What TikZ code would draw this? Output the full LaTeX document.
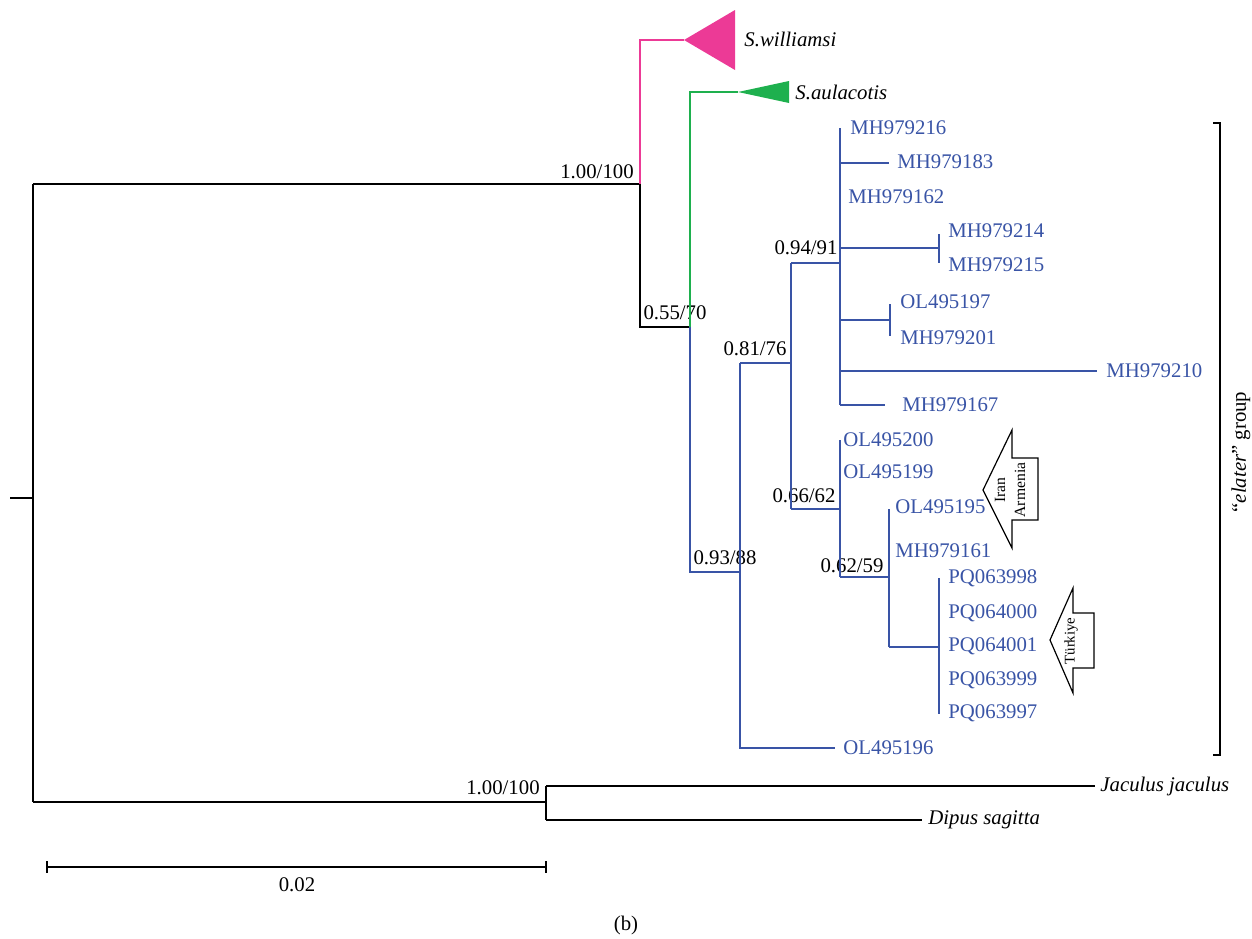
\documentclass[tikz,border=0pt]{standalone}
\usepackage{fontspec}
\setmainfont{Liberation Serif}
\definecolor{tblue}{RGB}{57,84,166}
\definecolor{tpink}{RGB}{236,58,150}
\definecolor{tgreen}{RGB}{30,176,78}
\begin{document}
\begin{tikzpicture}[x=0.5pt,y=-0.5pt,
  edge/.style={line width=1.3pt, line join=miter},
  bedge/.style={edge, draw=tblue},
  pedge/.style={edge, draw=tpink},
  gedge/.style={edge, draw=tgreen},
  txt/.style={font=\fontsize{10.4}{12}\selectfont, inner sep=0pt},
  leaf/.style={txt, anchor=west, text=tblue},
  ileaf/.style={txt, anchor=west, font=\fontsize{10.4}{12}\selectfont\itshape},
  sup/.style={txt},
  region/.style={draw, line width=0.6pt, fill=white, line join=miter}]
\useasboundingbox (0,0) rectangle (1252,938);

% ---- coordinates of tree nodes
\coordinate (rstub) at (10,498);
\coordinate (rmid) at (33,498);
\coordinate (rtop) at (33,184);
\coordinate (rbot) at (33,802);
\coordinate (amid) at (640,184);
\coordinate (atop) at (640,40);
\coordinate (abot) at (640,327);
\coordinate (wtip) at (684,40);
\coordinate (bmid) at (690,327);
\coordinate (btop) at (690,92);
\coordinate (bbot) at (690,572);
\coordinate (atip) at (738,92);
\coordinate (cmid) at (740,572);
\coordinate (ctop) at (740,363);
\coordinate (cbot) at (740,748);
\coordinate (dmid) at (791,363);
\coordinate (dtop) at (791,263);
\coordinate (dbot) at (791,509);
\coordinate (emid) at (840,263);
\coordinate (etop) at (840,128);
\coordinate (ebot) at (840,405);
\coordinate (fmid) at (840,509);
\coordinate (ftop) at (840,440);
\coordinate (fbot) at (840,577);
\coordinate (gmid) at (889,577);
\coordinate (gtop) at (889,509);
\coordinate (gbot) at (889,647);
\coordinate (hmid) at (939,647);
\coordinate (htop) at (939,578);
\coordinate (hbot) at (939,714);
\coordinate (omid) at (546,802);
\coordinate (otop) at (546,786);
\coordinate (obot) at (546,820);

% ---- leaf labels
\node[ileaf] (swil) at (744,39) {S.williamsi};
\node[ileaf] (saul) at (795,92) {S.aulacotis};
\node[leaf] (l216) at (850,128) {MH979216};
\node[leaf] (l183) at (897,162) {MH979183};
\node[leaf] (l162) at (848,197) {MH979162};
\node[leaf] (l214) at (948,231) {MH979214};
\node[leaf] (l215) at (948,265) {MH979215};
\node[leaf] (l197) at (900,302) {OL495197};
\node[leaf] (l201) at (900,338) {MH979201};
\node[leaf] (l210) at (1106,371) {MH979210};
\node[leaf] (l167) at (902,405) {MH979167};
\node[leaf] (l200) at (843,440) {OL495200};
\node[leaf] (l199) at (843,472) {OL495199};
\node[leaf] (l195) at (895,507) {OL495195};
\node[leaf] (l161) at (895,551) {MH979161};
\node[leaf] (p998) at (948,578) {PQ063998};
\node[leaf] (p000) at (948,613) {PQ064000};
\node[leaf] (p001) at (948,646) {PQ064001};
\node[leaf] (p999) at (948,680) {PQ063999};
\node[leaf] (p997) at (948,713) {PQ063997};
\node[leaf] (l196) at (843,748) {OL495196};
\node[ileaf] (jac) at (1100,786) {Jaculus jaculus};
\node[ileaf] (dip) at (928,820) {Dipus sagitta};

% ---- support values
\node[sup] (s1) at (597,172) {1.00/100};
\node[sup] (s2) at (675,313) {0.55/70};
\node[sup] (s3) at (725,558) {0.93/88};
\node[sup] (s4) at (755,349) {0.81/76};
\node[sup] (s5) at (806,248) {0.94/91};
\node[sup] (s6) at (804,496) {0.66/62};
\node[sup] (s7) at (852,566) {0.62/59};
\node[sup] (s8) at (503,788) {1.00/100};

% ---- black backbone
\draw[edge] (rstub) -- (rmid);
\draw[edge] (rtop) -- (rbot);
\draw[edge] (rtop) -- (amid);
\draw[edge] (amid) -- (abot) -- (bmid);
\draw[edge] (rbot) -- (omid);
\draw[edge] (otop) -- (obot);
\draw[edge] (otop) -- (1095,786) coordinate (jend);
\draw[edge] (obot) -- (922,820) coordinate (dend);

% ---- collapsed clades
\draw[pedge] (amid) -- (atop) -- (wtip);
\fill[tpink] (wtip) -- (735,10) -- (735,70) -- cycle;
\draw[gedge] (bmid) -- (btop) -- (atip);
\fill[tgreen] (atip) -- (789,81) -- (789,103) -- cycle;

% ---- blue clade
\draw[bedge] (bmid) -- (bbot) -- (cmid);
\draw[bedge] (ctop) -- (cbot) -- (835,748) coordinate (e196);
\draw[bedge] (ctop) -- (dmid);
\draw[bedge] (dtop) -- (dbot);
\draw[bedge] (dtop) -- (emid);
\draw[bedge] (etop) -- (ebot);
\draw[bedge] (840,163) -- (889,163) coordinate (e183);
\draw[bedge] (840,248) -- (939,248) coordinate (k1);
\draw[bedge] (939,234) -- (939,263);
\draw[bedge] (840,320) -- (890,320) coordinate (k2);
\draw[bedge] (890,304) -- (890,336);
\draw[bedge] (840,371) -- (1097,371) coordinate (e210);
\draw[bedge] (ebot) -- (885,405) coordinate (e167);
\draw[bedge] (dbot) -- (fmid);
\draw[bedge] (ftop) -- (fbot);
\draw[bedge] (fbot) -- (gmid);
\draw[bedge] (gtop) -- (gbot);
\draw[bedge] (gbot) -- (hmid);
\draw[bedge] (htop) -- (hbot);

% ---- region arrows
\draw[region] (983,490) -- (1012,430) -- (1012,458) -- (1038,458) -- (1038,520) -- (1012,520) -- (1012,548) -- cycle;
\node[inner sep=0pt, rotate=90, align=center, font=\fontsize{7.8}{10}\selectfont] (iran) at (1010,490) {Iran\\Armenia};
\draw[region] (1050,640) -- (1073,588) -- (1073,613) -- (1094,613) -- (1094,668) -- (1073,668) -- (1073,693) -- cycle;
\node[inner sep=0pt, rotate=90, font=\fontsize{7.4}{9}\selectfont] (tur) at (1071,641) {Türkiye};

% ---- group bracket
\draw[edge] (1213,123) -- (1220,123) -- (1220,755) -- (1213,755);
\node[txt, rotate=90] (grp) at (1241,452) {“\textit{elater}” group};

% ---- scale bar
\draw[edge] (47,861) -- (47,873);
\draw[edge] (546,861) -- (546,873);
\draw[edge] (47,867) -- (546,867);
\node[txt] (scl) at (297,885) {0.02};
\node[txt] (cap) at (626,925) {(b)};
\end{tikzpicture}
\end{document}
